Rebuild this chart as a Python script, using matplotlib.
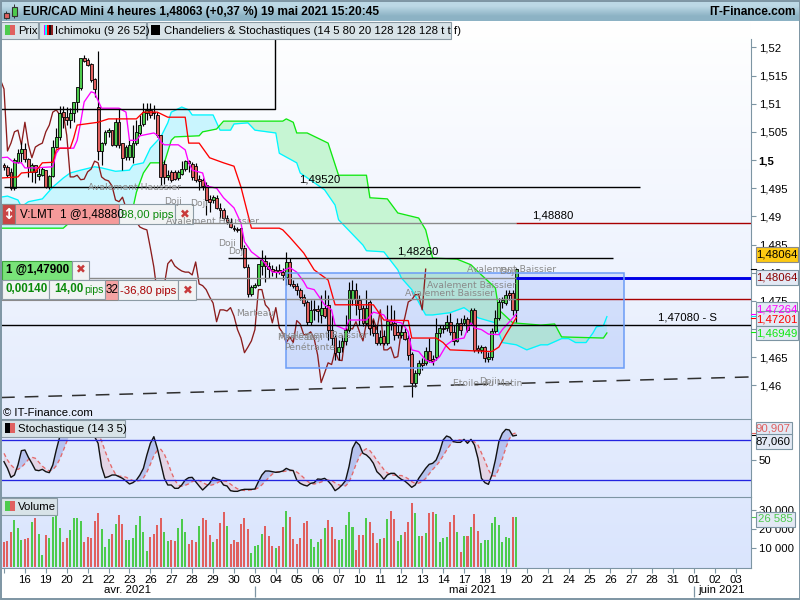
import matplotlib
matplotlib.use("Agg")
import matplotlib.pyplot as plt
import numpy as np
from matplotlib.patches import Rectangle

plt.rcParams["font.family"] = ["Liberation Sans", "DejaVu Sans"]

opens = [
    1.4991, 1.4988, 1.4979, 1.4950, 1.4996, 1.5012, 1.5020, 1.5002, 1.4979, 1.4991,
    1.4972, 1.4973, 1.4982, 1.4952, 1.4972, 1.5023, 1.5041, 1.5085, 1.5076, 1.5071,
    1.5083, 1.5103, 1.5128, 1.5181, 1.5177, 1.5170, 1.5144, 1.5094, 1.5016, 1.5030,
    1.5050, 1.5053, 1.5027, 1.5067, 1.5030, 1.5005, 1.5005, 1.5005, 1.5030, 1.5048,
    1.5064, 1.5083, 1.5089, 1.5085, 1.5080, 1.5044, 1.4993, 1.4970, 1.4979, 1.4979,
    1.4968, 1.4975, 1.4984, 1.4998, 1.4993, 1.4989, 1.4966, 1.4965, 1.4956, 1.4931,
    1.4929, 1.4933, 1.4915, 1.4911, 1.4897, 1.4890, 1.4879, 1.4878, 1.4879, 1.4844,
    1.4810, 1.4762, 1.4775, 1.4778, 1.4812, 1.4821, 1.4812, 1.4807, 1.4805, 1.4805,
    1.4801, 1.4793, 1.4819, 1.4780, 1.4777, 1.4770, 1.4757, 1.4748, 1.4713, 1.4736,
    1.4736, 1.4725, 1.4738, 1.4743, 1.4699, 1.4686, 1.4660, 1.4668, 1.4679, 1.4699,
    1.4754, 1.4770, 1.4752, 1.4738, 1.4711, 1.4748, 1.4706, 1.4693, 1.4676, 1.4688,
    1.4676, 1.4715, 1.4711, 1.4695, 1.4690, 1.4695, 1.4684, 1.4656, 1.4605, 1.4622,
    1.4640, 1.4640, 1.4661, 1.4647, 1.4651, 1.4693, 1.4702, 1.4702, 1.4713, 1.4695,
    1.4679, 1.4711, 1.4711, 1.4718, 1.4711, 1.4734, 1.4667, 1.4663, 1.4668, 1.4647,
    1.4651, 1.4697, 1.4720, 1.4748, 1.4746, 1.4764, 1.4764, 1.4734,
]
highs = [
    1.4995, 1.4991, 1.4986, 1.5004, 1.5020, 1.5032, 1.5030, 1.5004, 1.4995, 1.4991,
    1.4986, 1.4988, 1.4982, 1.4973, 1.5035, 1.5057, 1.5096, 1.5096, 1.5094, 1.5092,
    1.5103, 1.5129, 1.5181, 1.5186, 1.5181, 1.5172, 1.5145, 1.5193, 1.5032, 1.5053,
    1.5057, 1.5053, 1.5074, 1.5092, 1.5030, 1.5027, 1.5035, 1.5062, 1.5071, 1.5080,
    1.5101, 1.5101, 1.5101, 1.5098, 1.5085, 1.5044, 1.5000, 1.4982, 1.4982, 1.4982,
    1.4982, 1.4998, 1.5000, 1.5000, 1.4996, 1.4995, 1.4973, 1.4968, 1.4961, 1.4938,
    1.4938, 1.4938, 1.4924, 1.4915, 1.4902, 1.4897, 1.4885, 1.4881, 1.4879, 1.4849,
    1.4816, 1.4778, 1.4782, 1.4816, 1.4840, 1.4832, 1.4819, 1.4814, 1.4812, 1.4816,
    1.4809, 1.4837, 1.4826, 1.4787, 1.4782, 1.4773, 1.4762, 1.4752, 1.4752, 1.4752,
    1.4743, 1.4761, 1.4770, 1.4761, 1.4725, 1.4690, 1.4681, 1.4690, 1.4725, 1.4784,
    1.4787, 1.4782, 1.4761, 1.4743, 1.4770, 1.4752, 1.4716, 1.4707, 1.4699, 1.4699,
    1.4743, 1.4743, 1.4734, 1.4707, 1.4707, 1.4702, 1.4690, 1.4660, 1.4628, 1.4645,
    1.4649, 1.4668, 1.4684, 1.4654, 1.4720, 1.4707, 1.4707, 1.4725, 1.4729, 1.4707,
    1.4720, 1.4720, 1.4725, 1.4722, 1.4738, 1.4738, 1.4672, 1.4672, 1.4670, 1.4660,
    1.4702, 1.4734, 1.4755, 1.4757, 1.4770, 1.4770, 1.4770, 1.4809,
]
lows = [
    1.4982, 1.4970, 1.4947, 1.4947, 1.4995, 1.4996, 1.4996, 1.4970, 1.4961, 1.4959,
    1.4965, 1.4972, 1.4950, 1.4949, 1.4970, 1.5021, 1.5035, 1.5057, 1.5062, 1.5057,
    1.5067, 1.5085, 1.5124, 1.5174, 1.5167, 1.5138, 1.5112, 1.5000, 1.4991, 1.5027,
    1.5041, 1.5025, 1.5023, 1.5021, 1.4982, 1.5000, 1.5000, 1.4995, 1.5027, 1.5044,
    1.5060, 1.5071, 1.5074, 1.5073, 1.5041, 1.4956, 1.4957, 1.4965, 1.4961, 1.4965,
    1.4965, 1.4973, 1.4980, 1.4979, 1.4965, 1.4961, 1.4947, 1.4947, 1.4902, 1.4908,
    1.4924, 1.4913, 1.4897, 1.4894, 1.4887, 1.4879, 1.4874, 1.4872, 1.4840, 1.4809,
    1.4757, 1.4759, 1.4773, 1.4777, 1.4796, 1.4784, 1.4791, 1.4794, 1.4791, 1.4798,
    1.4787, 1.4778, 1.4777, 1.4773, 1.4761, 1.4752, 1.4741, 1.4707, 1.4707, 1.4716,
    1.4713, 1.4711, 1.4720, 1.4681, 1.4672, 1.4645, 1.4645, 1.4660, 1.4672, 1.4695,
    1.4743, 1.4725, 1.4707, 1.4706, 1.4707, 1.4690, 1.4688, 1.4672, 1.4672, 1.4672,
    1.4672, 1.4699, 1.4681, 1.4684, 1.4684, 1.4681, 1.4645, 1.4580, 1.4597, 1.4619,
    1.4628, 1.4637, 1.4642, 1.4637, 1.4645, 1.4686, 1.4693, 1.4697, 1.4690, 1.4672,
    1.4677, 1.4690, 1.4707, 1.4695, 1.4707, 1.4660, 1.4658, 1.4658, 1.4642, 1.4642,
    1.4645, 1.4693, 1.4716, 1.4738, 1.4743, 1.4752, 1.4725, 1.4713,
]
closes = [
    1.4988, 1.4973, 1.4950, 1.5000, 1.5012, 1.5020, 1.5002, 1.4988, 1.4991, 1.4979,
    1.4975, 1.4984, 1.4952, 1.4972, 1.5023, 1.5041, 1.5083, 1.5076, 1.5071, 1.5083,
    1.5103, 1.5129, 1.5181, 1.5176, 1.5168, 1.5142, 1.5126, 1.5016, 1.5030, 1.5050,
    1.5053, 1.5027, 1.5067, 1.5027, 1.5004, 1.5023, 1.5027, 1.5030, 1.5050, 1.5062,
    1.5085, 1.5089, 1.5080, 1.5083, 1.5044, 1.4970, 1.4970, 1.4973, 1.4965, 1.4966,
    1.4979, 1.4984, 1.4998, 1.4995, 1.4970, 1.4965, 1.4963, 1.4954, 1.4929, 1.4926,
    1.4934, 1.4915, 1.4911, 1.4897, 1.4890, 1.4881, 1.4878, 1.4876, 1.4844, 1.4810,
    1.4762, 1.4775, 1.4778, 1.4816, 1.4823, 1.4812, 1.4807, 1.4803, 1.4801, 1.4801,
    1.4796, 1.4819, 1.4780, 1.4777, 1.4770, 1.4757, 1.4746, 1.4713, 1.4734, 1.4734,
    1.4732, 1.4738, 1.4723, 1.4699, 1.4684, 1.4658, 1.4668, 1.4679, 1.4699, 1.4770,
    1.4770, 1.4743, 1.4736, 1.4711, 1.4738, 1.4702, 1.4693, 1.4676, 1.4686, 1.4676,
    1.4715, 1.4709, 1.4690, 1.4690, 1.4695, 1.4683, 1.4654, 1.4605, 1.4622, 1.4640,
    1.4637, 1.4661, 1.4645, 1.4644, 1.4693, 1.4702, 1.4700, 1.4713, 1.4695, 1.4679,
    1.4711, 1.4699, 1.4718, 1.4699, 1.4734, 1.4663, 1.4663, 1.4668, 1.4649, 1.4651,
    1.4697, 1.4720, 1.4748, 1.4752, 1.4761, 1.4761, 1.4734, 1.48063,
]

tenkan_x = [-1, 1, 3, 5, 6, 9, 14, 15, 16, 20, 21, 22, 23, 25, 26, 28, 33, 35, 36, 38, 39, 43, 44, 45,
            46, 50, 52, 53, 54, 57, 58, 61, 63, 66, 68, 69, 71, 74, 77, 79, 82, 84, 86, 87, 89, 91,
            92, 94, 95, 98, 99, 104, 106, 109, 110, 114, 115, 116, 117, 119, 121, 123, 125, 127,
            129, 132, 133, 134, 135, 137, 139, 142, 143, 147]
tenkan = [1.5004, 1.5005, 1.4995, 1.4995, 1.4986, 1.4986, 1.4988, 1.5012, 1.5021, 1.5021, 1.5035, 1.5067,
          1.5103, 1.5121, 1.5119, 1.5092, 1.5092, 1.5085, 1.5035, 1.5035, 1.5043, 1.5048, 1.5044, 1.5032,
          1.5027, 1.5027, 1.5018, 1.4995, 1.4982, 1.4977, 1.4954, 1.4950, 1.4933, 1.4915, 1.4888, 1.4855,
          1.4837, 1.4823, 1.4801, 1.4800, 1.4809, 1.4801, 1.4784, 1.4773, 1.4770, 1.4752, 1.4743, 1.4734,
          1.4707, 1.4699, 1.4716, 1.4716, 1.4730, 1.4725, 1.4715, 1.4711, 1.4704, 1.4695, 1.4663, 1.4660,
          1.4645, 1.4640, 1.4651, 1.4672, 1.4681, 1.4684, 1.4699, 1.4711, 1.4702, 1.4699, 1.4691, 1.4690,
          1.4699, 1.47264]

kijun_x = [-1, 4, 5, 9, 11, 14, 15, 16, 19, 20, 21, 27, 30, 38, 40, 44, 47, 52, 53, 56, 59, 63, 66, 68,
           71, 79, 80, 82, 86, 89, 93, 95, 106, 107, 109, 116, 117, 124, 126, 128, 140, 142, 144, 147]
kijun = [1.4968, 1.4970, 1.4977, 1.4979, 1.4995, 1.4996, 1.5018, 1.5021, 1.5021, 1.5039, 1.5062, 1.5067,
         1.5073, 1.5073, 1.5085, 1.5085, 1.5076, 1.5076, 1.5030, 1.5030, 1.5004, 1.4995, 1.4989, 1.4952,
         1.4879, 1.4879, 1.4876, 1.4863, 1.4835, 1.4805, 1.4787, 1.4743, 1.4743, 1.4734, 1.4716, 1.4715,
         1.4684, 1.4684, 1.4676, 1.4663, 1.4660, 1.4668, 1.4690, 1.47201]

senkou_a_x = [-1, 1, 4, 5, 7, 11, 14, 17, 19, 22, 26, 28, 32, 36, 37, 40, 42, 45, 47, 48, 51, 53, 54, 60,
              62, 65, 66, 70, 72, 78, 79, 84, 85, 92, 95, 96, 103, 104, 109, 113, 114, 117, 121, 123,
              128, 132, 136, 141, 143, 147, 150, 154, 156, 160, 162, 164, 167, 169, 170, 172, 173]
senkou_a = [1.4934, 1.4936, 1.4929, 1.4917, 1.4926, 1.4931, 1.4952, 1.4968, 1.4977, 1.4982, 1.4988, 1.4986,
            1.4980, 1.4982, 1.4991, 1.4995, 1.5021, 1.5041, 1.5066, 1.5085, 1.5094, 1.5089, 1.5080, 1.5080,
            1.5053, 1.5053, 1.5064, 1.5066, 1.5053, 1.5048, 1.5012, 1.4995, 1.4977, 1.4947, 1.4920, 1.4894,
            1.4849, 1.4839, 1.4837, 1.4805, 1.4791, 1.4770, 1.4725, 1.4725, 1.4729, 1.4738, 1.4720, 1.4711,
            1.4676, 1.4672, 1.4663, 1.4672, 1.4672, 1.4683, 1.4683, 1.4676, 1.4676, 1.4693, 1.4704, 1.4706,
            1.4722]

senkou_b_x = [-1, 17, 19, 35, 37, 38, 40, 42, 46, 48, 49, 56, 57, 61, 63, 80, 81, 83, 84, 87, 93, 96, 104,
              105, 110, 113, 119, 121, 123, 130, 134, 137, 141, 142, 146, 154, 158, 160, 172, 173]
senkou_b = [1.4879, 1.4879, 1.4890, 1.4890, 1.4915, 1.4943, 1.4977, 1.4995, 1.4995, 1.5035, 1.5041, 1.5043,
            1.5050, 1.5055, 1.5069, 1.5069, 1.5073, 1.5067, 1.5048, 1.5048, 1.5030, 1.4973, 1.4973, 1.4933,
            1.4931, 1.4906, 1.4897, 1.4876, 1.4826, 1.4824, 1.4814, 1.4796, 1.4773, 1.4734, 1.4711, 1.4707,
            1.4709, 1.4686, 1.4684, 1.4693]

stoch_k = [
    47.5, 37.5, 24, 27.5, 42.5, 64, 65, 54, 45, 35,
    34, 36, 32.5, 31, 42.5, 65, 85, 96, 99, 98,
    97, 95, 95, 97, 98, 95, 85, 75, 40, 23.5,
    25, 27.5, 27.5, 25, 22.5, 18.5, 14, 16, 20, 27.5,
    37.5, 57.5, 75, 85, 67.5, 45, 22.5, 12.5, 12.5, 7.5,
    7.5, 12.5, 20, 23.5, 24, 17.5, 11, 5, 10, 15,
    24, 21.5, 20, 12.5, 11, 4, 3, 3, 5, 6,
    6, 6, 6.5, 17.5, 27.5, 33.5, 33.5, 32.5, 31.5, 32,
    33.5, 37.5, 35, 34, 20, 15, 12.5, 11, 15, 16,
    21.5, 21, 22.5, 18.5, 12.5, 4, 7.5, 12.5, 19, 40,
    67.5, 77.5, 72.5, 60, 57.5, 52.5, 45, 32.5, 27.5, 21,
    27.5, 30, 30, 25, 21, 18.5, 14, 9, 12.5, 22.5,
    30, 37.5, 43.5, 45, 50, 62.5, 80, 86, 84, 77.5,
    76.5, 76.5, 81, 75, 81, 72.5, 52.5, 22.5, 16, 13.5,
    27.5, 50, 77.5, 90, 96, 95, 86, 87.06,
]
stoch_d = [
    60, 50, 42.5, 37.5, 35.8, 39, 44.6, 50.6, 54.1, 52.6,
    46.6, 40.8, 36.5, 33.7, 35.2, 41.4, 51.2, 63.9, 77.5, 88.6,
    95, 97, 96.8, 96.4, 96.4, 96, 94, 90, 78.6, 63.7,
    49.7, 38.2, 28.7, 25.7, 25.5, 24.2, 21.5, 19.2, 18.2, 19.2,
    23, 31.7, 43.5, 56.5, 64.5, 66, 59, 46.5, 32, 20,
    12.5, 10.5, 12, 14.2, 17.5, 19.5, 19.2, 16.2, 13.5, 11.7,
    13, 15.1, 18.1, 18.6, 17.8, 13.8, 10.1, 6.7, 5.2, 4.2,
    4.6, 5.2, 5.9, 8.4, 12.7, 18.2, 23.6, 28.9, 31.7, 32.6,
    32.6, 33.4, 33.9, 34.4, 32, 28.3, 23.3, 18.5, 14.7, 13.9,
    15.2, 16.9, 19.2, 19.9, 19.2, 15.7, 13, 11, 11.1, 16.6,
    29.3, 43.3, 55.3, 63.5, 67, 64, 57.5, 49.5, 43, 35.7,
    30.7, 27.7, 27.2, 26.7, 26.7, 24.9, 21.7, 17.5, 15, 15.3,
    17.6, 22.3, 29.2, 35.7, 41.2, 47.7, 56.2, 64.7, 72.5, 78,
    80.8, 80.1, 79.1, 77.3, 78, 77.2, 72.4, 60.7, 48.9, 35.4,
    26.4, 25.9, 36.9, 51.7, 68.2, 81.7, 88.9, 90.907,
]

volumes = [
    12950, 13475, 18200, 24675, 20475, 14175, 14700, 15225, 23450, 25725,
    17325, 6300, 16800, 15225, 26250, 27300, 20475, 13125, 15225, 19425,
    25725, 25725, 24150, 13125, 15750, 15225, 24150, 28350, 19950, 10500,
    14700, 17325, 22575, 27300, 22575, 14175, 14175, 15225, 22050, 26775,
    18375, 8400, 15750, 17325, 22050, 25725, 18375, 13650, 14175, 13650,
    20475, 25200, 18375, 12075, 14175, 13125, 21525, 25725, 24675, 16800,
    13125, 14700, 23100, 28875, 21525, 12075, 14175, 13125, 22575, 25725,
    19950, 7350, 11025, 11550, 17325, 21525, 16275, 11025, 9975, 11025,
    21000, 29400, 26250, 14700, 12075, 15225, 23100, 24150, 14700, 10500,
    13125, 14700, 20475, 24675, 21000, 14700, 14175, 14700, 22050, 28875,
    21000, 8925, 16800, 16800, 25725, 23625, 17850, 12600, 14700, 15225,
    25200, 29400, 25200, 13650, 16800, 18375, 23625, 33600, 28350, 16275,
    16275, 17850, 28350, 28875, 27825, 13125, 15225, 15750, 23625, 27300,
    18375, 7875, 16275, 16275, 21000, 27825, 18900, 12600, 14175, 14175,
    23100, 26250, 22050, 13125, 15750, 15225, 26250, 26585,
]
volume_side = ("RRRGGGRRGR" "GGRGGGGRRG" "GGGRRRRRGG" "GRGRRGGGGG" "GGRRRRGGRR"
               "GGGRRRGRRR" "GRRRGRRRRR" "RGGGGRRRGR" "RGRRRRRRGG" "GRGRRRGGGG"
               "GRRRGRRRGR" "GRRGGRRRGG" "RGRRGGGGRR" "GRGRGRRGGG" "GGGGGGRG")

day_labels = ["16", "19", "20", "21", "22", "23", "26", "27", "28", "29", "30", "03", "04", "05", "06",
              "07", "10", "11", "12", "13", "14", "17", "18", "19", "20", "21", "24", "25", "26", "27",
              "28", "31", "01", "02", "03"]
price_ticks = [1.46, 1.465, 1.47, 1.475, 1.48, 1.485, 1.49, 1.495, 1.5, 1.505, 1.51, 1.515, 1.52]
price_labels = ["1,46", "1,465", "1,47", "1,475", "1,48", "1,485", "1,49", "1,495", "1,5", "1,505", "1,51",
                "1,515", "1,52"]
volume_ticks = [10000, 20000, 30000]
volume_labels = ["10 000", "20 000", "30 000"]

W, H = 800, 600
GREEN, RED = "#4dcb4d", "#e0605f"
FRAME = "#7d95a3"


def panel(fig, x0, y0, x1, y1, zorder=2):
    """Axes placed by screenshot pixels (y counted from the top)."""
    ax = fig.add_axes([x0 / W, 1 - y1 / H, (x1 - x0) / W, (y1 - y0) / H], zorder=zorder)
    ax.patch.set_alpha(0)
    return ax


def box(ui, x0, y0, x1, y1, fc, ec="#8c9ba5", zorder=5):
    ui.add_patch(Rectangle((x0, y0), x1 - x0, y1 - y0, fc=fc, ec=ec, lw=0.8, zorder=zorder))


fig = plt.figure(figsize=(W / 100, H / 100), dpi=100, facecolor="white")

# chart background, white at the top fading to pale blue
bg = panel(fig, 1, 21, 751, 568, zorder=0)
shade = np.linspace(0, 1, 256)[:, None, None]
top_rgb, low_rgb = np.array([1.0, 1.0, 1.0]), np.array([0.855, 0.898, 0.992])
bg.imshow(top_rgb + shade * (low_rgb - top_rgb), aspect="auto", extent=(0, 1, 0, 1))
bg.axis("off")

XLIM = (-0.86, 214.35)
bars = np.arange(len(closes))
up = np.array(closes) >= np.array(opens)

# ---- price panel
ax = panel(fig, 1, 39, 751, 419, zorder=2)
ax.set_xlim(*XLIM)
ax.set_ylim(1.45403, 1.52148)

grid_x = np.linspace(-1, 173, 1741)
a_line = np.interp(grid_x, senkou_a_x, senkou_a)
b_line = np.interp(grid_x, senkou_b_x, senkou_b)
ax.fill_between(grid_x, a_line, b_line, where=a_line >= b_line, color="#c9f5fe", lw=0, zorder=1)
ax.fill_between(grid_x, a_line, b_line, where=a_line < b_line, color="#c6f5d3", lw=0, zorder=1)

ax.add_patch(Rectangle((81.0, 1.4631), 97, 0.01685, fc="#3f73f5", alpha=0.15, lw=0, zorder=1.5))
ax.add_patch(Rectangle((81.0, 1.4631), 97, 0.01685, fc="none", ec="#6b9cf7", lw=1.1, zorder=6))

ax.plot(senkou_a_x, senkou_a, color="#00f6ff", lw=0.95, zorder=2)
ax.plot(senkou_b_x, senkou_b, color="#10e810", lw=0.95, zorder=2)
ax.plot(bars[:-25] - 1 + 0, closes[25:], color="#8b1c1c", lw=0.95, zorder=2.5)

up_bars, down_bars = bars[up], bars[~up]
ax.vlines(bars, lows, highs, color="black", lw=0.85, zorder=3)
body_o, body_c = np.array(opens), np.array(closes)
ax.bar(bars[up], (body_c - body_o)[up], bottom=body_o[up], width=0.82, color=GREEN, edgecolor="black", lw=0.6, zorder=3.2)
ax.bar(bars[~up], (body_o - body_c)[~up], bottom=body_c[~up], width=0.82, color=RED, edgecolor="black", lw=0.6, zorder=3.2)

ax.plot(tenkan_x, tenkan, color="#ff00ff", lw=0.95, zorder=4)
ax.plot(kijun_x, kijun, color="#ff0000", lw=0.95, zorder=4)

# horizontal levels: black drawings and grey order lines
ax.hlines(1.4952, 0, 182.5, color="black", lw=1, zorder=5)
ax.hlines(1.4826, 64.3, 174.7, color="black", lw=1, zorder=5)
ax.hlines(1.4708, *XLIM, color="black", lw=1, zorder=5)
ax.hlines(1.5090, *XLIM, color="none")
ax.plot([XLIM[0], 77.8, 77.8], [1.5091, 1.5091, 1.5215], color="black", lw=1, zorder=5)
for level, color, lw in [(1.4888, "#a80000", 1.0), (1.4790, "#0000e6", 2.1), (1.47532, "#a80000", 1.0)]:
    ax.hlines(level, XLIM[0], 147, color="#8a8a8a", lw=1, zorder=5)
    ax.hlines(level, 147, XLIM[1], color=color, lw=lw, zorder=5)
ax.plot(XLIM, [1.45784, 1.4615], color="#303030", lw=1.1, ls=(0, (9, 6.5)), zorder=5)

ax.xaxis.set_visible(False)
ax.yaxis.tick_right()
ax.set_yticks(price_ticks, price_labels, fontsize=8.2)
ax.get_yticklabels()[price_ticks.index(1.5)].set_fontweight("bold")
ax.tick_params(axis="y", length=3.5, width=0.8, color=FRAME, pad=2)
for name, spine in ax.spines.items():
    spine.set_visible(name in ("right", "bottom"))
    spine.set_color(FRAME)

ytrans = ax.get_yaxis_transform()
for value, color in [(1.48064, "black"), (1.47264, "#ff00ff"), (1.4723, "#00e8f0"), (1.47201, "#ff0000"), (1.46949, "#10e810")]:
    ax.plot([1, 1.006], [value, value], transform=ytrans, color=color, lw=0.8, clip_on=False, zorder=6)

# ---- stochastic panel
st = panel(fig, 1, 419, 751, 497, zorder=2)
st.set_xlim(*XLIM)
st.set_ylim(-5.5, 111.5)
k_line, d_line = np.array(stoch_k), np.array(stoch_d)
st.fill_between(bars, k_line, d_line, where=k_line >= d_line, interpolate=True, color="#b7c3ee", lw=0)
st.fill_between(bars, k_line, d_line, where=k_line < d_line, interpolate=True, color="#e3d5e6", lw=0)
st.plot(bars, stoch_d, color="#e4696a", lw=0.95, ls=(0, (3, 2.2)))
st.plot(bars, stoch_k, color="#111111", lw=1.0)
st.axhline(80, color="#2424e0", lw=0.95)
st.axhline(20, color="#2424e0", lw=0.95)
st.xaxis.set_visible(False)
st.yaxis.tick_right()
st.set_yticks([50], ["50"], fontsize=8.2)
st.tick_params(axis="y", length=3.5, width=0.8, color=FRAME, pad=2)
for name, spine in st.spines.items():
    spine.set_visible(name in ("right", "bottom"))
    spine.set_color(FRAME)
st_trans = st.get_yaxis_transform()
st.plot([1, 1.006], [87.06, 87.06], transform=st_trans, color="black", lw=0.8, clip_on=False)
st.plot([1, 1.006], [90.907, 90.907], transform=st_trans, color=RED, lw=0.8, clip_on=False)

# ---- volume panel
vo = panel(fig, 1, 497, 751, 568, zorder=2)
vo.set_xlim(*XLIM)
vo.set_ylim(-500, 36870)
vol_colors = [GREEN if side == "G" else RED for side in volume_side]
vo.bar(bars, volumes, width=0.58, color=vol_colors, lw=0)
vo.yaxis.tick_right()
vo.set_yticks(volume_ticks, volume_labels, fontsize=8.2)
vo.set_xticks(np.arange(0, 6 * (len(day_labels) + 1), 6), [""] + day_labels, fontsize=8.2)
vo.tick_params(axis="y", length=3.5, width=0.8, color=FRAME, pad=2)
vo.tick_params(axis="x", length=3.5, width=0.8, color=FRAME, pad=1.5)
for name, spine in vo.spines.items():
    spine.set_visible(name in ("right", "bottom"))
    spine.set_color(FRAME)
vo.plot([1, 1.006], [26585, 26585], transform=vo.get_yaxis_transform(), color=GREEN, lw=0.8, clip_on=False)

# ---- everything that sits on top of the chart, placed in screen pixels
ui = fig.add_axes([0, 0, 1, 1], zorder=5)
ui.set_xlim(0, W)
ui.set_ylim(H, 0)
ui.axis("off")
ui.patch.set_alpha(0)


def label(x, y, text, size=8.2, color="black", ha="center", weight="normal", zorder=7, family=None):
    ui.text(x, y, text, fontsize=size, color=color, ha=ha, va="center", fontweight=weight, zorder=zorder,
            family=family if family else plt.rcParams["font.family"])


# candlestick pattern names
PATTERN = "#8a8a8a"
for x, y, text in [
    (134, 188, "Avalement Haussier"), (173, 202, "Doji"), (199, 203, "Doji"),
    (213, 222, "Avalement Haussier"), (227, 244, "Doji"), (237, 251, "Doji"),
    (255, 313, "Marteau"), (324, 335, "Avalement Baissier"), (296, 337, "Marteau"),
    (314, 338, "Doji"), (310, 347, "Pénétrante"), (450, 294, "Avalement Baissier"),
    (472, 286, "Avalement Baissier"), (512, 269, "Avalement Baissier"), (508, 272, "Doji"),
    (488, 383, "Etoile du Matin"), (488, 381, "Doji"),
]:
    label(x, y, text, size=6.7, color=PATTERN, family="DejaVu Sans", zorder=6)

label(320, 179, "1,49520", size=8.2, zorder=6)
label(553, 216, "1,48880", size=8.2, zorder=6)
label(418, 252, "1,48260", size=8.2, zorder=6)
label(688, 317, "1,47080 - S", size=8.2, zorder=6)
label(3, 413, "© IT-Finance.com", size=8.2, ha="left", zorder=6)

# header band
ui.imshow(np.array([[0.74, 0.85, 0.90], [0.55, 0.70, 0.77]])[:, None, :], aspect="auto",
          extent=(1, 799, 21, 1), interpolation="bilinear", zorder=6)
ui.set_xlim(0, W)
ui.set_ylim(H, 0)
label(23, 12, "EUR/CAD Mini 4 heures 1,48063 (+0,37 %) 19 mai 2021 15:20:45", size=8.6, ha="left", weight="bold")
label(796, 12, "IT-Finance.com", size=8.6, ha="right", weight="bold")
ui.vlines(6, 11, 19, color="#333333", lw=0.7, zorder=7)
box(ui, 3.5, 13, 8.5, 18, RED, ec="#333333", zorder=7)
ui.vlines(14, 4, 18, color="#333333", lw=0.7, zorder=7)
box(ui, 11.5, 7, 16.5, 16, GREEN, ec="#333333", zorder=7)

# indicator legend chips
LEGEND = "#d8e3e8"
box(ui, 1, 22, 38, 38.5, LEGEND)
box(ui, 5, 25, 10, 35, GREEN, ec="none", zorder=6)
box(ui, 10, 25, 15, 35, RED, ec="none", zorder=6)
label(18, 30.5, "Prix", ha="left")
box(ui, 39, 22, 146, 38.5, LEGEND)
for i, color in enumerate(["#ff00ff", "#00ffff", "#ff0000", "#111111", "#8b1c1c"]):
    box(ui, 43.5 + 1.9 * i, 25, 45.4 + 1.9 * i, 35, color, ec="none", zorder=6)
label(55, 30.5, "Ichimoku (9 26 52)", ha="left")
box(ui, 147, 22, 450.5, 38.5, LEGEND)
box(ui, 151, 25, 160, 35, "black", ec="none", zorder=6)
label(163.5, 30.5, "Chandeliers & Stochastiques (14 5 80 20 128 128 128 t t f)", ha="left")

box(ui, 1, 420, 125, 437, LEGEND)
box(ui, 5, 423, 10, 433, "black", ec="none", zorder=6)
box(ui, 10, 423, 15, 433, RED, ec="none", zorder=6)
label(18, 428.5, "Stochastique (14 3 5)", ha="left")
box(ui, 1, 498, 57, 515, LEGEND)
box(ui, 5, 501, 10, 511, GREEN, ec="none", zorder=6)
box(ui, 10, 501, 15, 511, RED, ec="none", zorder=6)
label(18, 506.5, "Volume", ha="left")

# open order widgets
PANE = "#f1f3f4"
box(ui, 1, 280, 118, 300, "#f4a3a3", ec="#8a8a8a")
label(112, 290, "32", size=8.4)
box(ui, 118, 280, 178, 300, PANE)
label(148, 290.5, "-36,80 pips", size=8.2, color="#a80000")
box(ui, 178, 280, 196, 300, PANE)
label(187.5, 290.5, "✖", size=8.5, color="#c83a3a", family="DejaVu Sans")

box(ui, 2, 204, 119, 224, "#f59a9a", ec="#8a8a8a")
box(ui, 2, 204, 15, 224, "#c94545", ec="#8a8a8a")
label(8.5, 214, "↕", size=10.5, color="white", weight="bold", family="DejaVu Sans")
label(20, 214.5, "V:LMT  1 @1,48880", ha="left", size=8.4)
box(ui, 119, 204, 175, 224, PANE)
label(147, 215, "98,00 pips", size=8.2, color="#0a8a0a")
box(ui, 175, 204, 193, 224, PANE)
label(184.5, 214.5, "✖", size=8.5, color="#c83a3a", family="DejaVu Sans")

box(ui, 2, 260.5, 72, 279.5, "#79e479", ec="#3ca33c")
label(6, 270, "1 @1,47900", ha="left", weight="bold", size=8.4)
box(ui, 72, 260.5, 89, 279.5, PANE)
label(80.5, 270, "✖", size=8.5, color="#c83a3a", family="DejaVu Sans")
box(ui, 2, 280, 49, 298.5, PANE)
label(6, 289.5, "0,00140", ha="left", weight="bold", size=8.4, color="#0a8a0a")
box(ui, 49, 280, 105, 298.5, PANE)
label(54, 289.5, "14,00", ha="left", weight="bold", size=8.4, color="#0a8a0a")
label(84, 290, "pips", ha="left", size=7.6, color="#0a8a0a")

# last-value boxes on the right scale
VALUE = "#e3e9f4"
box(ui, 756, 302, 797, 316, VALUE, ec=FRAME)
label(776.5, 309, "1,47264", color="#ff00ff")
box(ui, 756, 247, 797.5, 262, "#fdc912", ec="#8a8a8a")
label(776.5, 254.8, "1,48064")
box(ui, 756, 269.5, 797.5, 285, VALUE, ec=FRAME)
label(776.5, 277.5, "1,48064", color="#8b0000")
box(ui, 756, 311, 797.5, 326, VALUE, ec=FRAME)
label(776.5, 319, "1,47201", color="#ff0000")
box(ui, 756, 326, 797.5, 340, VALUE, ec=FRAME)
label(776.5, 333.2, "1,46949", color="#10e810")
box(ui, 755.5, 421.5, 791.5, 435, VALUE, ec=FRAME)
label(773.5, 428.8, "90,907", color=RED)
box(ui, 755.5, 433.5, 791.5, 448.5, VALUE, ec=FRAME)
label(773.5, 441.3, "87,060")
box(ui, 755.5, 511.5, 795, 526.5, VALUE, ec=FRAME)
label(775.5, 519.5, "26 585", color=GREEN)

# month row and outer frame
label(127, 590, "avr. 2021")
label(473, 590, "mai 2021")
label(722, 590, "juin 2021")
ui.vlines([255, 694], 586, 597, color=FRAME, lw=0.9, zorder=7)
ui.add_patch(Rectangle((0.5, 0.5), 799, 598, fc="none", ec=FRAME, lw=1.4, zorder=8))

fig.savefig("out.png", dpi=100)
